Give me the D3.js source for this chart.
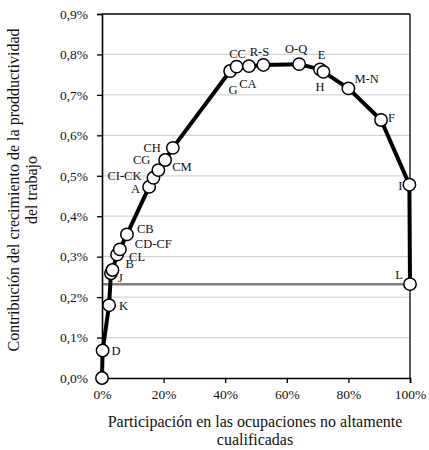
<!DOCTYPE html>
<html>
<head>
<meta charset="utf-8">
<script src="https://cdn.jsdelivr.net/npm/d3@7"></script>
<style>
  html, body { margin: 0; padding: 0; background: #fff; }
  svg { display: block; }
  svg text { font-family: "Liberation Serif", "Times New Roman", serif; }
</style>
</head>
<body>
<svg id="chart" width="429" height="450"></svg>
<script>
// ---- Data ----
const labels = ["", "D", "K", "J", "B", "CL", "CD-CF", "CB", "A", "CI-CK", "CG", "CM", "CH",
  "G", "CC", "CA", "R-S", "O-Q", "H", "E", "M-N", "F", "I", "L"];
const shareValues = [0, 0.2, 2.3, 2.9, 3.4, 4.9, 5.8, 8.1, 15.3, 16.7, 18.3, 20.5, 23.0,
  41.6, 43.7, 47.7, 52.4, 64.0, 70.8, 71.9, 80.0, 90.6, 99.8, 100];
const contribValues = [0, 0.068, 0.180, 0.259, 0.267, 0.305, 0.318, 0.355, 0.4725, 0.495, 0.514, 0.539, 0.569,
  0.759, 0.770, 0.771, 0.774, 0.776, 0.763, 0.757, 0.716, 0.638, 0.478, 0.232];
const referenceLevel = 0.232;
const xTicks = [0, 20, 40, 60, 80, 100];
const yTicks = [0, 0.1, 0.2, 0.3, 0.4, 0.5, 0.6, 0.7, 0.8, 0.9];
const xTitle = ["Participación en las ocupaciones no altamente", "cualificadas"];
const yTitle = ["Contribución del crecimiento de la prodductividad", "del trabajo"];

// label placement (layout only): [dx, dy, anchor]
const labelPlacement = {
  "D": [9, 0, "start"], "K": [10, 0, "start"], "J": [7, 4, "start"], "B": [13, -6, "start"],
  "CL": [12, 2, "start"], "CD-CF": [15, -6, "start"], "CB": [10, -6, "start"],
  "A": [-9, 2, "end"], "CI-CK": [-12, -2, "end"], "CG": [-8, -10, "end"], "CM": [7, 7, "start"],
  "CH": [-12, 0, "end"], "G": [3, 19, "middle"], "CC": [1, -13, "middle"], "CA": [-1, 17, "middle"],
  "R-S": [-4, -13, "middle"], "O-Q": [-3, -16, "middle"], "H": [0, 17, "middle"], "E": [-2, -17, "middle"],
  "M-N": [6, -10, "start"], "F": [7, -2, "start"], "I": [-7, 1, "end"], "L": [-7, -10, "end"]
};

// ---- Layout ----
const FONT = "Liberation Serif";
const svg = d3.select("#chart");
const margin = { top: 14, right: 19, bottom: 72, left: 102 };
const W = 429, H = 450;
const iw = W - margin.left - margin.right;
const ih = H - margin.top - margin.bottom;
const g = svg.append("g").attr("transform", `translate(${margin.left},${margin.top})`);

const x = d3.scaleLinear().domain([0, 100]).range([0, iw]);
const y = d3.scaleLinear().domain([0, 0.9]).range([ih, 0]);

// gridlines
g.append("g").selectAll("line")
  .data(yTicks.filter(t => t > 0 && t < 0.9))
  .join("line")
  .attr("x1", 0).attr("x2", iw)
  .attr("y1", d => y(d)).attr("y2", d => y(d))
  .attr("stroke", "#d4d4d4").attr("stroke-width", 1.2);

// border top/right
g.append("line").attr("x1", 0).attr("x2", iw).attr("y1", 0).attr("y2", 0)
  .attr("stroke", "#000").attr("stroke-width", 1.3);
g.append("line").attr("x1", iw).attr("x2", iw).attr("y1", 0).attr("y2", ih)
  .attr("stroke", "#000").attr("stroke-width", 1.3);

// reference line
g.append("line")
  .attr("x1", x(0)).attr("x2", x(100))
  .attr("y1", y(referenceLevel)).attr("y2", y(referenceLevel))
  .attr("stroke", "#808080").attr("stroke-width", 2.5);

// axes
const fmtY = d => d3.format(".1f")(d).replace(".", ",") + "%";
const yAxis = g.append("g").call(d3.axisLeft(y).tickValues(yTicks).tickFormat(fmtY).tickSize(5).tickPadding(9));
const xAxis = g.append("g").attr("transform", `translate(0,${ih})`)
  .call(d3.axisBottom(x).tickValues(xTicks).tickFormat(d => d + "%").tickSize(5).tickPadding(6));
[yAxis, xAxis].forEach(a => {
  a.attr("font-family", FONT);
  a.select(".domain").attr("stroke", "#000").attr("stroke-width", 1.6);
  a.selectAll(".tick line").attr("stroke", "#000").attr("stroke-width", 1.3);
  a.selectAll("text").attr("fill", "#111").attr("font-family", FONT).style("font-size", "13.5px");
});

// series line
const pts = labels.map((l, i) => ({ label: l, xv: shareValues[i], yv: contribValues[i] }));
g.append("path").datum(pts)
  .attr("fill", "none").attr("stroke", "#000").attr("stroke-width", 4).attr("stroke-linejoin", "round")
  .attr("d", d3.line().x(d => x(d.xv)).y(d => y(d.yv)));

// markers
g.append("g").selectAll("circle").data(pts).join("circle")
  .attr("cx", d => x(d.xv)).attr("cy", d => y(d.yv)).attr("r", 6.2)
  .attr("fill", "#fff").attr("stroke", "#000").attr("stroke-width", 1.5);

// point labels
g.append("g").selectAll("text").data(pts.filter(d => d.label)).join("text")
  .attr("x", d => x(d.xv) + labelPlacement[d.label][0])
  .attr("y", d => y(d.yv) + labelPlacement[d.label][1])
  .attr("dy", "0.35em")
  .attr("text-anchor", d => labelPlacement[d.label][2])
  .attr("fill", "#111").attr("font-family", FONT)
  .style("font-size", "12.5px")
  .text(d => d.label);

// x title
svg.append("text").attr("x", 255).attr("y", 427).attr("text-anchor", "middle")
  .attr("font-family", FONT).style("font-size", "16px").attr("fill", "#111")
  .selectAll("tspan").data(xTitle).join("tspan")
  .attr("x", 255).attr("dy", (d, i) => i === 0 ? 0 : 18).text(d => d);

// y title
svg.append("text").attr("transform", "translate(19,190) rotate(-90)").attr("text-anchor", "middle")
  .attr("font-family", FONT).style("font-size", "16px").attr("fill", "#111")
  .selectAll("tspan").data(yTitle).join("tspan")
  .attr("x", 0).attr("dy", (d, i) => i === 0 ? 0 : 18).text(d => d);
</script>
</body>
</html>
